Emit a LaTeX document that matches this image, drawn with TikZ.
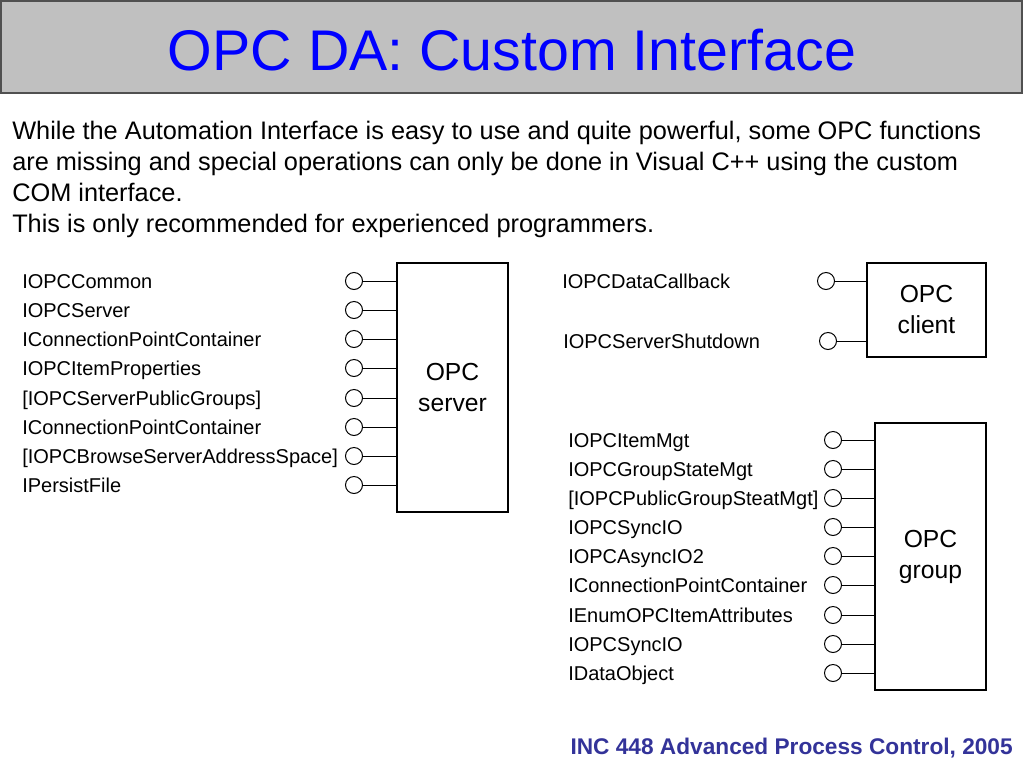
\documentclass[tikz,border=0pt]{standalone}
\usepackage{fontspec}
\setmainfont{Liberation Sans}
\usepackage{xcolor}
\definecolor{titlegray}{RGB}{192,192,192}
\definecolor{framegray}{RGB}{80,80,80}
\definecolor{titleblue}{RGB}{0,0,255}
\definecolor{footblue}{RGB}{51,51,153}

\begin{document}
\begin{tikzpicture}[x=0.75pt,y=0.75pt,yscale=-1,xscale=1,
  iface/.style={circle,draw=black,minimum size=12.75pt,inner sep=0pt,line width=0.75pt},
  lbl/.style={anchor=west,inner sep=0pt,text height=10.7pt,text depth=0pt,font=\fontsize{15}{18}\selectfont},
  objbox/.style={draw=black,line width=0.9pt,align=center,inner sep=0pt,font=\fontsize{18.5}{23.25}\selectfont},
  wire/.style={line width=0.75pt}]

\useasboundingbox (0,0) rectangle (1024,768);

% Title bar
\draw [fill=titlegray,draw=framegray,line width=1.2pt] (1,1) rectangle (1022,93);
\draw (512,70) node (title) [anchor=base][inner sep=0pt] [font=\fontsize{43}{46}\selectfont] [text=titleblue] {OPC DA: Custom Interface};

% Text Node
\draw (12,121) node (intro) [anchor=north west][inner sep=0pt] [font=\fontsize{19}{23.25}\selectfont] [align=left] {While the Automation Interface is easy to use and quite powerful, some OPC functions\\ are missing and special operations can only be done in Visual C++ using the custom\\ COM interface.\\ This is only recommended for experienced programmers.};

% OPC server
\draw (452.5,387.5) node (srv) [objbox,minimum width=83.25pt,minimum height=186.75pt] {OPC\\ server};

\draw (354,281) node (isrv1) [iface] {};
\draw (354,310) node (isrv2) [iface] {};
\draw (354,339) node (isrv3) [iface] {};
\draw (354,368) node (isrv4) [iface] {};
\draw (354,398) node (isrv5) [iface] {};
\draw (354,427) node (isrv6) [iface] {};
\draw (354,456) node (isrv7) [iface] {};
\draw (354,485) node (isrv8) [iface] {};

\draw [wire] (isrv1) -- (isrv1 -| srv.west);
\draw [wire] (isrv2) -- (isrv2 -| srv.west);
\draw [wire] (isrv3) -- (isrv3 -| srv.west);
\draw [wire] (isrv4) -- (isrv4 -| srv.west);
\draw [wire] (isrv5) -- (isrv5 -| srv.west);
\draw [wire] (isrv6) -- (isrv6 -| srv.west);
\draw [wire] (isrv7) -- (isrv7 -| srv.west);
\draw [wire] (isrv8) -- (isrv8 -| srv.west);

\draw (22,281) node (lsrv1) [lbl] {IOPCCommon};
\draw (22,310) node (lsrv2) [lbl] {IOPCServer};
\draw (22,339) node (lsrv3) [lbl] {IConnectionPointContainer};
\draw (22,368) node (lsrv4) [lbl] {IOPCItemProperties};
\draw (22,398) node (lsrv5) [lbl] {[IOPCServerPublicGroups]};
\draw (22,427) node (lsrv6) [lbl] {IConnectionPointContainer};
\draw (22,456) node (lsrv7) [lbl] {[IOPCBrowseServerAddressSpace]};
\draw (22,485) node (lsrv8) [lbl] {IPersistFile};

% OPC client
\draw (926.5,310) node (cli) [objbox,minimum width=89.25pt,minimum height=70.5pt] {OPC\\ client};

\draw (826,281) node (icli1) [iface] {};
\draw (828,341) node (icli2) [iface] {};
\draw [wire] (icli1) -- (icli1 -| cli.west);
\draw [wire] (icli2) -- (icli2 -| cli.west);

\draw (562,281) node (lcli1) [lbl] {IOPCDataCallback};
\draw (563,341) node (lcli2) [lbl] {IOPCServerShutdown};

% OPC group
\draw (930.5,556.5) node (grp) [objbox,minimum width=83.25pt,minimum height=200.25pt] {OPC\\ group};

\draw (833,440) node (igrp1) [iface] {};
\draw (833,469) node (igrp2) [iface] {};
\draw (833,498) node (igrp3) [iface] {};
\draw (833,527) node (igrp4) [iface] {};
\draw (833,556) node (igrp5) [iface] {};
\draw (833,585) node (igrp6) [iface] {};
\draw (833,615) node (igrp7) [iface] {};
\draw (833,644) node (igrp8) [iface] {};
\draw (833,673) node (igrp9) [iface] {};

\draw [wire] (igrp1) -- (igrp1 -| grp.west);
\draw [wire] (igrp2) -- (igrp2 -| grp.west);
\draw [wire] (igrp3) -- (igrp3 -| grp.west);
\draw [wire] (igrp4) -- (igrp4 -| grp.west);
\draw [wire] (igrp5) -- (igrp5 -| grp.west);
\draw [wire] (igrp6) -- (igrp6 -| grp.west);
\draw [wire] (igrp7) -- (igrp7 -| grp.west);
\draw [wire] (igrp8) -- (igrp8 -| grp.west);
\draw [wire] (igrp9) -- (igrp9 -| grp.west);

\draw (568,440) node (lgrp1) [lbl] {IOPCItemMgt};
\draw (568,469) node (lgrp2) [lbl] {IOPCGroupStateMgt};
\draw (568,498) node (lgrp3) [lbl] {[IOPCPublicGroupSteatMgt]};
\draw (568,527) node (lgrp4) [lbl] {IOPCSyncIO};
\draw (568,556) node (lgrp5) [lbl] {IOPCAsyncIO2};
\draw (568,585) node (lgrp6) [lbl] {IConnectionPointContainer};
\draw (568,615) node (lgrp7) [lbl] {IEnumOPCItemAttributes};
\draw (568,644) node (lgrp8) [lbl] {IOPCSyncIO};
\draw (568,673) node (lgrp9) [lbl] {IDataObject};

% Footer
\draw (1013,754) node (foot) [anchor=base east][inner sep=0pt] [font=\bfseries\fontsize{17}{20}\selectfont] [text=footblue] {INC 448 Advanced Process Control, 2005};

\end{tikzpicture}
\end{document}
